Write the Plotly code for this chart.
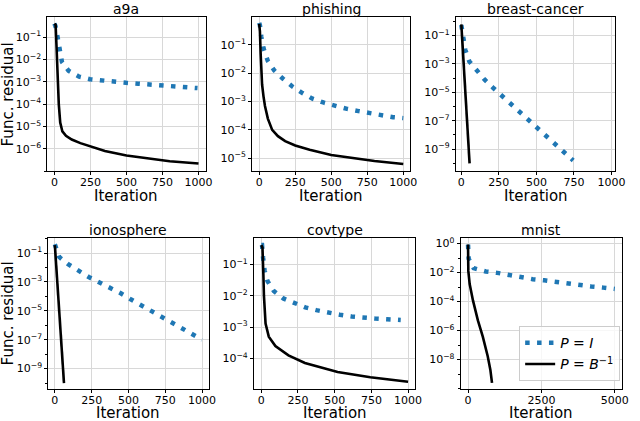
import plotly.graph_objects as go

# Values (iteration, functional residual)
titles = ["a9a", "phishing", "breast-cancer", "ionosphere", "covtype", "mnist"]

a9a_it_I = [0, 7, 23, 34, 52, 98, 171, 247, 338, 416, 498, 582, 667, 747, 834, 920, 993]
a9a_I = [0.4, 0.31, 0.09, 0.026, 0.0077, 0.0031, 0.0017, 0.0013, 0.0011, 0.001, 0.0009,
         0.00082, 0.00075, 0.0007, 0.00062, 0.00058, 0.00052]
a9a_it_B = [0, 8, 15, 22, 30, 40, 55, 80, 120, 180, 250, 350, 500, 650, 800, 1000]
a9a_B = [0.4, 0.35, 0.03, 1e-3, 1e-4, 1.5e-5, 6e-6, 3.8e-6, 2.6e-6, 1.8e-6, 1.3e-6, 8e-7,
         5e-7, 3.7e-7, 2.8e-7, 2.2e-7]

phish_it_I = [0, 5, 15, 30, 60, 105, 165, 230, 300, 370, 450, 530, 610, 690, 770, 850, 930, 1000]
phish_I = [0.6, 0.5, 0.19, 0.076, 0.027, 0.0125, 0.0064, 0.0034, 0.002, 0.00126, 0.00091,
           0.0007, 0.00055, 0.00046, 0.00038, 0.00032, 0.00028, 0.00026]
phish_it_B = [0, 5, 10, 15, 20, 30, 40, 60, 90, 130, 180, 250, 350, 500, 650, 800, 1000]
phish_B = [0.55, 0.3, 0.05, 0.01, 0.004, 0.0015, 7e-4, 2.5e-4, 1e-4, 6e-5, 4e-5, 2.8e-5,
           2e-5, 1.3e-5, 1e-5, 8e-6, 6.2e-6]

bc_it_I = [0, 15, 26, 53, 103, 154, 213, 268, 330, 389, 448, 510, 567, 626, 686, 745]
bc_I = [0.54, 0.07, 0.01, 0.0015, 3.4e-4, 8e-5, 2e-5, 5.8e-6, 1.6e-6, 4e-7, 1.2e-7, 3e-8,
        7.8e-9, 2.2e-9, 5.8e-10, 1.6e-10]
bc_it_B = [0, 10, 20, 30, 40, 55]
bc_B = [0.6, 0.01, 1.7e-4, 2.8e-6, 4.7e-8, 1e-10]

iono_it_I = [0, 30, 90, 160, 230, 300, 375, 445, 515, 585, 655, 725, 795, 865, 935, 1000]
iono_I = [0.4, 0.053, 0.017, 6e-3, 2.2e-3, 9.5e-4, 4e-4, 1.7e-4, 6.3e-5, 2.5e-5, 1e-5,
          4e-6, 1.6e-6, 6.4e-7, 2.6e-7, 1e-7]
iono_it_B = [0, 15, 30, 45, 62]
iono_B = [0.35, 1.7e-3, 8.5e-6, 4.2e-8, 1e-10]

cov_it_I = [0, 5, 12, 22, 42, 85, 150, 225, 300, 375, 455, 535, 615, 695, 775, 855, 950]
cov_I = [0.42, 0.42, 0.17, 0.066, 0.03, 0.0144, 0.0083, 0.0058, 0.0043, 0.0035, 0.0029,
         0.0025, 0.0022, 0.002, 0.0019, 0.0018, 0.0017]
cov_it_B = [0, 8, 14, 18, 29, 51, 96, 185, 297, 520, 743, 1000]
cov_B = [0.42, 0.35, 0.05, 0.01, 1.3e-3, 5e-4, 2.5e-4, 1.26e-4, 7.2e-5, 3.7e-5, 2.5e-5, 1.8e-5]

mn_it_I = [0, 22, 190, 604, 996, 1398, 1790, 2204, 2595, 2998, 3400, 3803, 4195, 4609, 5000]
mn_I = [0.85, 0.09, 0.02, 0.0118, 0.0095, 0.0066, 0.0049, 0.0035, 0.0029, 0.0022, 0.0017,
        0.0015, 0.0011, 9.1e-4, 7.4e-4]
mn_it_B = [0, 5, 10, 56, 168, 336, 503, 671, 760, 817]
mn_B = [0.85, 0.1, 0.013, 1.6e-3, 1.2e-4, 5e-6, 3.8e-7, 1.7e-8, 2e-9, 2.5e-10]

# y tick exponents per panel
ytick_exp = [
    [-1, -2, -3, -4, -5, -6],
    [0, -1, -2, -3, -4, -5],
    [-1, -3, -5, -7, -9],
    [-1, -3, -5, -7, -9],
    [-1, -2, -3, -4],
    [0, -2, -4, -6, -8],
]
xtick_vals = [[0, 250, 500, 750, 1000]] * 5 + [[0, 2500, 5000]]

series = [
    (a9a_it_I, a9a_I, a9a_it_B, a9a_B),
    (phish_it_I, phish_I, phish_it_B, phish_B),
    (bc_it_I, bc_I, bc_it_B, bc_B),
    (iono_it_I, iono_I, iono_it_B, iono_B),
    (cov_it_I, cov_I, cov_it_B, cov_B),
    (mn_it_I, mn_I, mn_it_B, mn_B),
]

# layout in pixels (left, right, top, bottom) and axis ranges
W, H = 640, 421
boxes = [(48, 209, 15, 170), (256, 417, 15, 170), (463, 625, 15, 170),
         (49, 212, 237, 389), (258, 422, 237, 389), (468, 632, 237, 389)]
xlabel_gap = [25, 25, 25, 24, 24, 24]
xranges = [[-50, 1050], [-50, 1050], [-37, 1025], [-45, 1045], [-50, 1050], [-250, 5250]]
yranges = [[-7.0, -0.1], [-5.46, -0.01], [-10.55, 0.3], [-10.42, 0.05], [-4.98, -0.145], [-10.04, 0.39]]

BLUE = "#1f77b4"
font = "DejaVu Sans, Arial, sans-serif"

fig = go.Figure()
layout = {}
annotations = []

for i, (itI, vI, itB, vB) in enumerate(series):
    n = "" if i == 0 else str(i + 1)
    last = i == 5
    fig.add_trace(go.Scatter(x=itI, y=vI, mode="lines", xaxis="x" + n, yaxis="y" + n,
                             line=dict(color=BLUE, width=4.5, dash="4.5px,7.4px"),
                             name="<i>P</i> = <i>I</i>", showlegend=last))
    fig.add_trace(go.Scatter(x=itB, y=vB, mode="lines", xaxis="x" + n, yaxis="y" + n,
                             line=dict(color="black", width=2.6),
                             name="<i>P</i> = <i>B</i><sup>−1</sup>", showlegend=last))

    l, r, t, b = boxes[i]
    lo, hi = yranges[i]
    minor_vals = []
    for e in range(int(lo) - 1, int(hi) + 2):
        if e not in ytick_exp[i]:
            minor_vals.append(10.0 ** e)
    layout["xaxis" + n] = dict(
        domain=[l / W, r / W], anchor="y" + n, range=xranges[i],
        tickvals=xtick_vals[i], ticks="outside", ticklen=3, tickcolor="black",
        ticklabelstandoff=-2,
        showline=True, mirror=True, linecolor="black", linewidth=1,
        showgrid=True, gridcolor="#d8d8d8", gridwidth=1, zeroline=False,
        tickfont=dict(size=11, color="black", family=font),
    )
    layout["yaxis" + n] = dict(
        domain=[1 - b / H, 1 - t / H], anchor="x" + n, type="log", range=yranges[i],
        tickvals=[10.0 ** e for e in ytick_exp[i]],
        ticktext=["10<sup>%s</sup>" % str(e).replace("-", "−") for e in ytick_exp[i]],
        ticks="outside", ticklen=3, tickcolor="black",
        showline=True, mirror=True, linecolor="black", linewidth=1,
        showgrid=True, gridcolor="#d8d8d8", gridwidth=1, zeroline=False,
        tickfont=dict(size=11, color="black", family=font),
        minor=dict(tickvals=minor_vals, ticks="outside", ticklen=2, tickcolor="black",
                   showgrid=False),
    )
    annotations.append(dict(text=titles[i], x=(l + r) / 2 / W, y=1 - (t - 8) / H,
                            xref="paper", yref="paper", xanchor="center", yanchor="middle",
                            showarrow=False, font=dict(size=14, color="black", family=font)))
    annotations.append(dict(text="Iteration", x=(l + r) / 2 / W, y=1 - (b + xlabel_gap[i]) / H,
                            xref="paper", yref="paper", xanchor="center", yanchor="middle",
                            showarrow=False, font=dict(size=15, color="black", family=font)))

for yc in [93, 313]:
    annotations.append(dict(text="Func. residual", x=8 / W, y=1 - yc / H, textangle=-90,
                            xref="paper", yref="paper", xanchor="center", yanchor="middle",
                            showarrow=False, font=dict(size=15, color="black", family=font)))

fig.update_layout(
    width=W, height=H, margin=dict(l=0, r=0, t=0, b=0),
    paper_bgcolor="white", plot_bgcolor="white",
    annotations=annotations,
    legend=dict(x=630 / W, y=1 - 381 / H, xanchor="right", yanchor="bottom",
                bgcolor="rgba(255,255,255,0.8)", bordercolor="#cccccc", borderwidth=1,
                tracegroupgap=0, itemwidth=30,
                font=dict(size=14, color="black", family=font)),
    **layout,
)

# the page's default body margin would shift the figure by 8px
fig.write_html("out.html", config={"displayModeBar": False},
               post_script="document.body.style.margin='0';")
